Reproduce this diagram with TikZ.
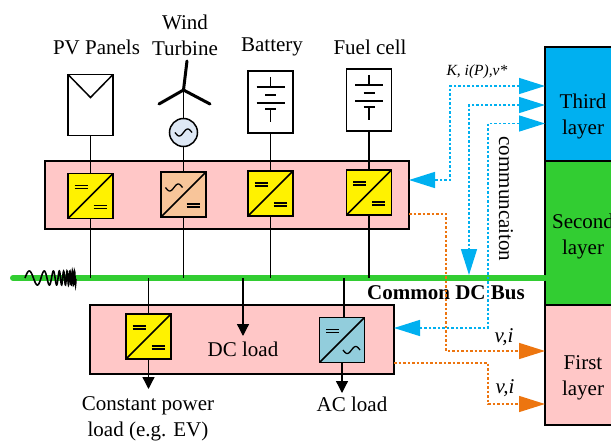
\documentclass[tikz,border=0pt]{standalone}
\usepackage{fontspec}
\setmainfont{Liberation Serif}
\usetikzlibrary{arrows.meta,positioning}
\definecolor{panelpink}{RGB}{255,199,199}
\definecolor{busgreen}{RGB}{50,205,50}
\definecolor{commblue}{RGB}{0,176,240}
\definecolor{measorange}{RGB}{237,117,15}
\definecolor{peach}{RGB}{248,197,154}
\definecolor{teal}{RGB}{146,205,220}
\definecolor{genblue}{RGB}{222,232,245}
\tikzset{
  txt/.style={font=\fontsize{21}{26}\selectfont,align=center,inner sep=0pt},
  box/.style={draw,line width=1.5pt,inner sep=0pt,outer sep=0pt},
  conv/.style={box,fill=yellow,minimum size=45pt,
    path picture={\draw[line width=1.5pt] (path picture bounding box.south west) -- (path picture bounding box.north east);}},
  source/.style={box,fill=white,minimum width=45pt,minimum height=61pt},
  layer/.style={box,minimum width=75pt},
  wire/.style={line width=1.3pt},
  load/.style={line width=1.3pt,-{Triangle[length=12pt,width=12pt]}},
  bigtip/.tip={Triangle[length=26pt,width=16pt]},
  comm/.style={commblue,line width=1.5pt,dash pattern=on 2.5pt off 2pt},
  meas/.style={measorange,line width=1.5pt,dash pattern=on 2.5pt off 2pt},
  eqs/.pic={\draw[line width=1.3pt] (-6.5,-1.6) -- (6.5,-1.6) (-6.5,1.6) -- (6.5,1.6);},
  wave/.pic={\draw[line width=1.3pt] plot[domain=-8.5:8.5,samples=30,smooth] (\x,{-3.5*sin(21.2*\x)});},
  cell/.pic={\draw[line width=1.3pt] (0,-25) -- (0,-15) (-14,-15) -- (14,-15) (-5.5,-7) -- (5.5,-7)
    (-14,1) -- (14,1) (-5.5,7) -- (5.5,7) (0,7) -- (0,20);},
}
\begin{document}
\begin{tikzpicture}[x=1pt,y=-1pt,on grid]
  \useasboundingbox (0,0) rectangle (611,441);
  % layers
  \node[layer,fill=commblue,minimum height=114pt] (third) at (582.5,104) {};
  \node[layer,fill=busgreen,minimum height=144pt] (second) at (582.5,233) {};
  \node[layer,fill=panelpink,minimum height=120pt] (first) at (582.5,365) {};
  \node[txt] at (583,116) {Third\\layer};
  \node[txt] at (583,236) {Second\\layer};
  \node[txt] at (583,378) {First\\layer};
  % panels and bus
  \node[box,fill=panelpink,minimum width=364pt,minimum height=68pt] (toppanel) at (227,195) {};
  \node[box,fill=panelpink,minimum width=304pt,minimum height=69pt] (lowpanel) at (242,339.5) {};
  \coordinate (busl) at (13,278);
  \coordinate (busr) at (545,278);
  \draw[busgreen,line width=6pt,line cap=round] (busl) -- (busr);
  \draw[line width=1.6pt] plot[domain=0:1,samples=240,smooth] ({25+51*\x},{278-7*sin(360*(3*\x+6*\x*\x*\x*\x))});
  % converters
  \node[conv] (c1) at (90.5,196) {};
  \node[conv,fill=peach,right=93pt of c1,yshift=1.5pt] (c2) {};
  \node[conv,right=180pt of c1,yshift=2.5pt] (c3) {};
  \node[conv,right=278.5pt of c1,yshift=3.5pt] (c4) {};
  \node[conv] (c5) at (148.5,336.5) {};
  \node[conv,fill=teal,right=193.5pt of c5,yshift=-3.5pt] (c6) {};
  \foreach \c/\lx/\ly in {c1/-9.5/-9,c1/9.5/11,c2/9.5/11,c3/-9.5/-9,c3/9.5/11,c4/-9.5/-9,c4/9.5/11,c5/-9.5/-9,c5/9.5/11,c6/-9.5/-9}
    \pic at ([xshift=\lx pt,yshift=-\ly pt]\c.center) {eqs};
  \pic at ([xshift=-9.5pt,yshift=7pt]c2.center) {wave};
  \pic at ([xshift=9.5pt,yshift=-10pt]c6.center) {wave};
  % sources
  \node[source] (pv) at (90.5,105) {};
  \node[source,minimum height=62pt] (bat) at (270.5,102) {};
  \node[source,minimum height=62pt] (fuel) at (369,100) {};
  \draw[line width=1.5pt] (pv.north west) -- ([yshift=-23pt]pv.north) -- (pv.north east);
  \pic at (bat.center) {cell};
  \pic at (fuel.center) {cell};
  \node[box,circle,fill=genblue,minimum size=28pt] (gen) at (183.5,132.5) {};
  \pic at (gen.center) {wave};
  \coordinate (hub) at (183.5,90);
  \draw[line width=3pt,line cap=round] (hub) -- (187,61) (hub) -- (159,104) (hub) -- (210,104);
  % wires
  \draw[wire] (hub) -- (gen);
  \draw[wire] (pv) -- (c1);
  \draw[wire] (gen) -- (c2);
  \draw[wire] (bat) -- (c3);
  \draw[wire] (fuel) -- (c4);
  \foreach \c in {c1,c2,c3,c4}
    \draw[wire] (\c) -- (\c |- busl);
  \coordinate (cpl) at (148.5,389);
  \coordinate (dcl) at (243,336);
  \coordinate (acl) at (342,393);
  \draw[wire] (c5 |- busl) -- (c5);
  \draw[wire] (344,278) -- (344,317);
  \draw[load] (c5) -- (cpl);
  \draw[load] (243,278) -- (dcl);
  \draw[load] (342,363) -- (acl);
  % labels
  \node[txt] at (96.5,47) {PV Panels};
  \node[txt] at (185,35) {Wind\\Turbine};
  \node[txt] at (272,47) {Battery};
  \node[txt] at (370,47) {Fuel cell};
  \node[txt] at (243,349) {DC load};
  \node[txt] at (148,418.5) {Constant power\\load (e.g. EV)};
  \node[txt] at (352,404) {AC load};
  \node[txt,font=\fontsize{21}{26}\selectfont\bfseries] at (446,293) {Common DC Bus};
  \node[txt,rotate=-90] at (506,199) {communcaiton};
  \node[txt,font=\fontsize{15.5}{18}\selectfont\itshape] at (477,72) {K, i(P),v*};
  \node[txt,font=\fontsize{21}{26}\selectfont\itshape] at (504,337) {v,i};
  \node[txt,font=\fontsize{21}{26}\selectfont\itshape] at (505,388) {v,i};
  % communication and measurements
  \coordinate (k1) at (545,86);
  \coordinate (k2) at (545,105);
  \coordinate (k3) at (545,123.5);
  \coordinate (topin) at (409,180);
  \coordinate (busin) at (469,275);
  \coordinate (lowin) at (394,328);
  \coordinate (topout) at (409,214);
  \coordinate (lowout) at (394,363);
  \coordinate (f1) at (545,351);
  \coordinate (f2) at (545,404);
  \draw[comm,bigtip-bigtip] (k1) -- ++(-95,0) |- (topin);
  \draw[comm,bigtip-bigtip] (k2) -| (busin);
  \draw[comm,bigtip-bigtip] (k3) -- ++(-57,0) |- (lowin);
  \draw[meas,-bigtip] (topout) -- ++(37,0) |- (f1);
  \draw[meas,-bigtip] (lowout) -- ++(94,0) |- (f2);
\end{tikzpicture}
\end{document}
